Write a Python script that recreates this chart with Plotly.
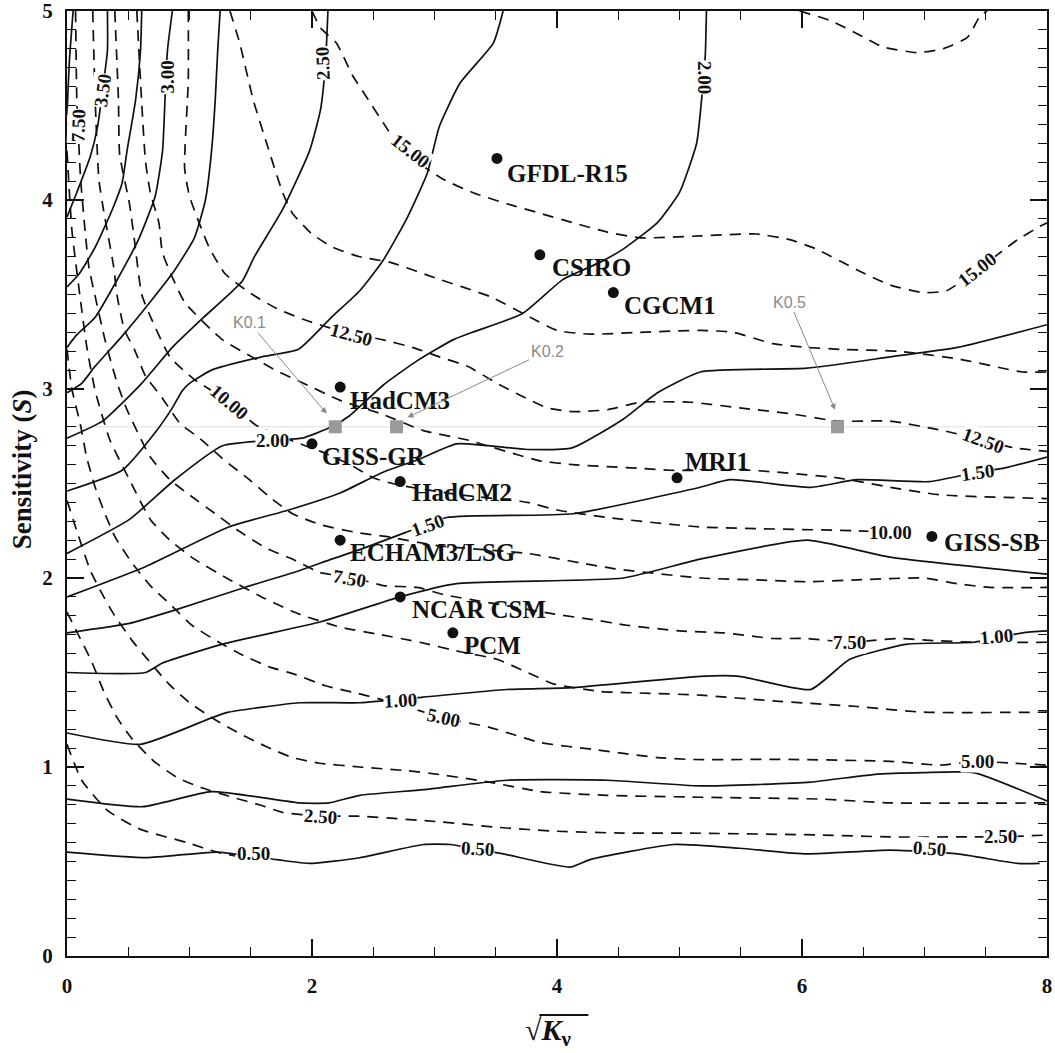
import plotly.graph_objects as go

# ---------------- axes ----------------
x_ticks = [0, 2, 4, 6, 8]
y_ticks = [0, 1, 2, 3, 4, 5]

# ---------------- warming contours (solid), sqrt(Kv) vs S ----------------
t050_x = [0, 0.65, 1.22, 1.71, 1.98, 2.39, 2.91, 3.13, 3.56, 4.11, 4.27, 4.95, 5.49, 6.04, 6.72, 7.27, 7.76, 7.94]
t050_y = [0.55, 0.52, 0.55, 0.51, 0.49, 0.52, 0.59, 0.59, 0.54, 0.47, 0.51, 0.59, 0.57, 0.54, 0.56, 0.54, 0.49, 0.49]

t075_x = [0, 0.62, 1.18, 1.90, 2.14, 2.39, 2.91, 3.59, 4.41, 5.17, 6.07, 6.58, 6.99, 7.40, 8.0]
t075_y = [0.83, 0.79, 0.87, 0.81, 0.81, 0.85, 0.88, 0.93, 0.93, 0.90, 0.92, 0.96, 0.97, 0.97, 0.82]

t100_x = [0, 0.60, 1.18, 1.32, 1.90, 2.39, 2.91, 3.59, 4.13, 5.17, 5.49, 6.07, 6.39, 6.86, 7.40, 7.80, 8.0]
t100_y = [1.18, 1.12, 1.26, 1.29, 1.34, 1.34, 1.37, 1.41, 1.42, 1.48, 1.48, 1.41, 1.57, 1.65, 1.66, 1.71, 1.72]

t125_x = [0, 0.64, 0.78, 1.27, 2.08, 2.72, 3.18, 4.54, 5.17, 6.04, 6.72, 8.0]
t125_y = [1.50, 1.50, 1.55, 1.65, 1.77, 1.90, 1.97, 2.00, 2.10, 2.20, 2.11, 2.02]

t150_x = [0, 0.51, 0.88, 1.45, 1.90, 2.16, 2.39, 2.76, 3.10, 4.13, 5.17, 5.41, 6.07, 6.45, 7.04, 7.43, 7.64, 8.0]
t150_y = [1.71, 1.76, 1.83, 1.95, 2.04, 2.10, 2.15, 2.24, 2.32, 2.34, 2.48, 2.52, 2.48, 2.52, 2.51, 2.56, 2.58, 2.64]

t175_x = [0, 0.64, 1.32, 1.81, 2.23, 2.58, 2.88, 3.18, 3.76, 4.13, 4.54, 4.82, 5.17, 6.04, 6.72, 7.27, 8.0]
t175_y = [1.90, 2.06, 2.27, 2.36, 2.45, 2.56, 2.63, 2.71, 2.68, 2.69, 2.84, 2.98, 3.09, 3.11, 3.17, 3.22, 3.34]

t200_x = [0, 0.51, 0.88, 1.27, 1.68, 1.92, 2.16, 2.31, 2.58, 2.86, 3.15, 3.31, 3.72, 4.05, 4.35, 4.54, 4.82, 5.00, 5.14, 5.18, 5.21, 5.22]
t200_y = [2.13, 2.31, 2.52, 2.70, 2.73, 2.74, 2.80, 2.86, 3.02, 3.15, 3.26, 3.30, 3.40, 3.58, 3.67, 3.74, 3.88, 4.04, 4.30, 4.53, 4.76, 5.0]

t225_x = [0, 0.45, 0.72, 0.86, 0.94, 1.00, 1.18, 1.59, 1.89, 2.16, 2.39, 2.58, 2.78, 2.94, 3.04, 3.21, 3.48, 3.56]
t225_y = [2.46, 2.57, 2.77, 2.90, 2.99, 3.03, 3.10, 3.17, 3.21, 3.38, 3.52, 3.68, 3.91, 4.14, 4.39, 4.62, 4.83, 5.0]

t250_x = [0, 0.29, 0.61, 0.86, 1.10, 1.43, 1.53, 1.76, 1.98, 2.07, 2.11, 2.13]
t250_y = [2.74, 2.83, 3.03, 3.22, 3.37, 3.57, 3.70, 3.95, 4.26, 4.48, 4.72, 5.0]

t275_x = [0, 0.12, 0.23, 0.45, 0.69, 0.88, 1.04, 1.13, 1.18, 1.21, 1.23, 1.25]
t275_y = [2.98, 3.03, 3.12, 3.28, 3.47, 3.63, 3.80, 4.00, 4.26, 4.53, 4.79, 5.0]

t300_x = [0, 0.07, 0.23, 0.42, 0.59, 0.72, 0.78, 0.80, 0.82, 0.86]
t300_y = [3.22, 3.28, 3.38, 3.59, 3.80, 4.02, 4.26, 4.53, 4.79, 5.0]

t325_x = [0, 0.10, 0.23, 0.37, 0.45, 0.49, 0.56, 0.60, 0.61]
t325_y = [3.54, 3.61, 3.75, 3.95, 4.09, 4.26, 4.53, 4.79, 5.0]

t350_x = [0, 0.08, 0.19, 0.25, 0.29, 0.33, 0.33]
t350_y = [3.91, 4.04, 4.23, 4.39, 4.58, 4.79, 5.0]

t375_x = [0, 0.02, 0.05]
t375_y = [4.45, 4.74, 5.0]

# ---------------- sea-level contours (dashed) ----------------
s125_x = [0, 0.12, 0.33, 0.60, 0.98, 1.22, 1.37]
s125_y = [1.12, 0.93, 0.77, 0.67, 0.60, 0.55, 0.53]

s250_x = [0, 0.10, 0.20, 0.30, 0.41, 0.53, 0.71, 0.91, 1.10, 1.35, 1.57, 1.76, 2.07, 2.37, 3.04, 3.53, 4.00, 4.54, 5.09, 6.17, 6.72, 7.40, 7.62, 8.0]
s250_y = [1.82, 1.69, 1.56, 1.40, 1.26, 1.15, 1.03, 0.94, 0.89, 0.84, 0.80, 0.76, 0.74, 0.74, 0.71, 0.68, 0.66, 0.65, 0.65, 0.64, 0.63, 0.63, 0.63, 0.64]

s375_x = [0, 0.09, 0.19, 0.30, 0.38, 0.53, 0.67, 0.83, 1.00, 1.21, 1.40, 1.62, 1.84, 2.06, 2.39, 2.78, 3.04, 3.45, 3.86, 4.41, 5.17, 6.17, 6.72, 8.0]
s375_y = [2.41, 2.23, 2.04, 1.90, 1.81, 1.67, 1.56, 1.44, 1.34, 1.25, 1.18, 1.11, 1.05, 1.02, 1.0, 0.98, 0.96, 0.92, 0.87, 0.85, 0.84, 0.83, 0.81, 0.81]

s500_x = [0, 0.04, 0.11, 0.16, 0.23, 0.31, 0.39, 0.53, 0.68, 0.86, 1.02, 1.24, 1.44, 1.65, 1.86, 2.11, 2.37, 2.72, 3.07, 3.45, 3.86, 4.33, 4.82, 5.09, 5.90, 6.72, 7.13, 7.43, 7.72, 8.0]
s500_y = [3.21, 3.00, 2.81, 2.64, 2.48, 2.34, 2.22, 2.08, 1.96, 1.85, 1.75, 1.66, 1.59, 1.53, 1.49, 1.43, 1.39, 1.33, 1.26, 1.21, 1.13, 1.09, 1.05, 1.04, 1.04, 1.03, 1.01, 1.03, 1.02, 1.01]

s625_x = [0, 0.04, 0.11, 0.16, 0.23, 0.35, 0.51, 0.68, 0.84, 1.04, 1.33, 1.62, 1.89, 2.23, 2.56, 2.88, 3.21, 3.51, 3.76, 3.97, 4.35, 4.76, 5.17, 5.76, 6.45, 6.99, 8.0]
s625_y = [4.26, 3.84, 3.47, 3.23, 2.99, 2.73, 2.52, 2.31, 2.20, 2.10, 1.99, 1.89, 1.81, 1.74, 1.70, 1.66, 1.61, 1.57, 1.50, 1.44, 1.40, 1.39, 1.38, 1.35, 1.32, 1.29, 1.29]

s750_x = [0.07, 0.08, 0.09, 0.11, 0.15, 0.18, 0.23, 0.31, 0.41, 0.49, 0.68, 0.84, 1.02, 1.21, 1.40, 1.62, 1.84, 2.06, 2.35, 2.58, 2.86, 3.09, 3.53, 3.97, 4.29, 4.57, 5.00, 5.36, 5.76, 6.04, 6.39, 6.78, 7.04, 7.40, 8.0]
s750_y = [5.0, 4.53, 4.39, 4.12, 3.82, 3.64, 3.49, 3.26, 3.03, 2.89, 2.64, 2.52, 2.43, 2.34, 2.25, 2.16, 2.10, 2.03, 2.0, 1.96, 1.95, 1.91, 1.86, 1.81, 1.78, 1.75, 1.72, 1.71, 1.68, 1.68, 1.66, 1.68, 1.67, 1.66, 1.66]

s875_x = [0.21, 0.23, 0.26, 0.30, 0.38, 0.41, 0.47, 0.55, 0.64, 0.78, 0.92, 1.10, 1.29, 1.49, 1.65, 1.84, 2.08, 2.37, 2.60, 3.04, 3.76, 4.19, 4.46, 5.17, 5.63, 6.04, 6.45, 6.99, 7.27, 7.53, 8.0]
s875_y = [5.0, 4.53, 4.11, 3.94, 3.65, 3.49, 3.31, 3.21, 3.07, 2.95, 2.82, 2.73, 2.62, 2.52, 2.43, 2.34, 2.28, 2.24, 2.22, 2.17, 2.13, 2.08, 2.05, 2.0, 1.99, 1.98, 1.99, 2.0, 1.97, 1.95, 1.95]

s1000_x = [0.39, 0.42, 0.43, 0.51, 0.55, 0.61, 0.69, 0.84, 1.04, 1.33, 1.54, 1.82, 2.07, 2.31, 2.50, 2.72, 3.21, 3.76, 4.00, 4.41, 5.17, 6.45, 6.72]
s1000_y = [5.0, 4.53, 4.24, 3.98, 3.79, 3.50, 3.37, 3.17, 3.05, 2.93, 2.81, 2.73, 2.67, 2.60, 2.53, 2.49, 2.44, 2.40, 2.36, 2.32, 2.27, 2.25, 2.24]

s1125_x = [0.57, 0.60, 0.64, 0.68, 0.75, 0.78, 0.96, 1.27, 1.51, 1.70, 1.90, 2.23, 2.56, 2.91, 3.27, 3.48, 3.86, 4.13, 4.68, 4.92, 5.58, 6.29, 6.72, 7.13, 8.0]
s1125_y = [5.0, 4.63, 4.21, 4.04, 3.88, 3.72, 3.46, 3.26, 3.17, 3.10, 3.04, 2.94, 2.87, 2.78, 2.73, 2.69, 2.62, 2.60, 2.58, 2.57, 2.57, 2.53, 2.48, 2.44, 2.42]

s1250_x = [0.99, 0.99, 0.96, 1.00, 1.16, 1.29, 1.49, 1.70, 1.92, 2.27, 2.58, 2.82, 3.04, 3.27, 3.51, 3.72, 3.92, 4.13, 4.41, 4.68, 5.09, 5.49, 5.90, 6.29, 6.72, 7.15, 7.48, 7.72, 8.0]
s1250_y = [5.0, 4.63, 4.17, 4.02, 3.75, 3.61, 3.51, 3.43, 3.37, 3.30, 3.26, 3.22, 3.17, 3.12, 3.03, 2.96, 2.90, 2.88, 2.89, 2.93, 2.93, 2.90, 2.87, 2.83, 2.83, 2.78, 2.73, 2.69, 2.67]

s1375_x = [1.33, 1.41, 1.52, 1.63, 1.76, 1.84, 2.00, 2.17, 2.39, 2.64, 3.04, 3.45, 3.78, 4.00, 4.27, 4.68, 5.17, 5.44, 5.76, 6.04, 6.31, 6.78, 7.27, 7.80, 8.0]
s1375_y = [5.0, 4.83, 4.53, 4.30, 4.04, 3.93, 3.82, 3.75, 3.70, 3.67, 3.58, 3.49, 3.38, 3.31, 3.29, 3.30, 3.31, 3.30, 3.24, 3.22, 3.21, 3.20, 3.16, 3.09, 3.09]

s1500_x = [2.00, 2.07, 2.20, 2.33, 2.43, 2.58, 2.74, 3.07, 3.31, 3.59, 3.86, 4.13, 4.41, 4.68, 5.17, 5.63, 5.90, 6.12, 6.45, 6.72, 6.99, 7.18, 7.43, 7.76, 7.94, 8.0]
s1500_y = [5.0, 4.91, 4.83, 4.66, 4.56, 4.41, 4.26, 4.11, 4.04, 3.98, 3.93, 3.88, 3.83, 3.80, 3.81, 3.82, 3.79, 3.74, 3.63, 3.55, 3.51, 3.52, 3.63, 3.79, 3.86, 3.88]

s1625_x = [5.98, 6.23, 6.45, 6.66, 6.94, 7.15, 7.35, 7.45, 7.51]
s1625_y = [5.0, 4.95, 4.88, 4.81, 4.78, 4.80, 4.86, 4.97, 5.0]

# ---------------- contour labels: text, x, y, angle ----------------
temp_labels = [
    ("0.50", 1.52, 0.54, 0), ("0.50", 3.35, 0.57, 3), ("0.50", 7.04, 0.57, 4),
    ("1.00", 2.72, 1.35, -3), ("1.00", 7.59, 1.69, -5),
    ("1.50", 2.94, 2.28, -20), ("1.50", 7.43, 2.56, -8),
    ("2.00", 1.68, 2.73, 0), ("2.00", 5.21, 4.65, 90),
    ("2.50", 2.09, 4.72, -92),
    ("3.00", 0.82, 4.65, -90),
    ("3.50", 0.29, 4.58, -82),
]
sea_labels = [
    ("2.50", 2.07, 0.74, 4), ("2.50", 7.62, 0.63, 0),
    ("5.00", 3.07, 1.26, 12), ("5.00", 7.43, 1.03, 0),
    ("7.50", 2.31, 2.00, 10), ("7.50", 6.39, 1.66, 0), ("7.50", 0.09, 4.39, -88),
    ("10.00", 1.33, 2.93, 40), ("10.00", 6.72, 2.24, 0),
    ("12.50", 2.32, 3.29, 15), ("12.50", 7.48, 2.73, 20),
    ("15.00", 2.80, 4.26, 38), ("15.00", 7.43, 3.63, -38),
]

# ---------------- climate models ----------------
model_names = ["GFDL-R15", "CSIRO", "CGCM1", "HadCM3", "GISS-GR", "HadCM2",
               "MRI1", "ECHAM3/LSG", "NCAR CSM", "PCM", "GISS-SB"]
model_kv = [3.51, 3.86, 4.46, 2.23, 2.00, 2.72, 4.98, 2.23, 2.72, 3.15, 7.06]
model_s = [4.22, 3.71, 3.51, 3.01, 2.71, 2.51, 2.53, 2.20, 1.90, 1.71, 2.22]

# ---------------- K experiments ----------------
k_names = ["K0.1", "K0.2", "K0.5"]
k_kv = [2.19, 2.69, 6.29]
k_s = 2.8
k_text_x = [1.49, 3.92, 5.90]
k_text_y = [3.35, 3.20, 3.46]
k_head_x = [2.12, 2.78, 6.27]
k_head_y = [2.87, 2.85, 2.89]

SERIF = "Liberation Serif, Times New Roman, serif"

fig = go.Figure()

solid_lines = [
    (t050_x, t050_y), (t075_x, t075_y), (t100_x, t100_y), (t125_x, t125_y),
    (t150_x, t150_y), (t175_x, t175_y), (t200_x, t200_y), (t225_x, t225_y),
    (t250_x, t250_y), (t275_x, t275_y), (t300_x, t300_y), (t325_x, t325_y),
    (t350_x, t350_y), (t375_x, t375_y),
]
dashed_lines = [
    (s125_x, s125_y), (s250_x, s250_y), (s375_x, s375_y), (s500_x, s500_y),
    (s625_x, s625_y), (s750_x, s750_y), (s875_x, s875_y), (s1000_x, s1000_y),
    (s1125_x, s1125_y), (s1250_x, s1250_y), (s1375_x, s1375_y), (s1500_x, s1500_y),
    (s1625_x, s1625_y),
]

# faint reference line through the K experiments
fig.add_trace(go.Scatter(x=[0, 8], y=[k_s, k_s], mode="lines",
                         line=dict(color="rgba(180,180,180,0.45)", width=1),
                         hoverinfo="skip", showlegend=False))

for xs, ys in dashed_lines:
    fig.add_trace(go.Scatter(x=xs, y=ys, mode="lines",
                             line=dict(color="#111", width=1.7, dash="11px,8px",
                                       shape="spline", smoothing=0.5),
                             hoverinfo="skip", showlegend=False))

for xs, ys in solid_lines:
    fig.add_trace(go.Scatter(x=xs, y=ys, mode="lines",
                             line=dict(color="#111", width=1.7,
                                       shape="spline", smoothing=0.5),
                             hoverinfo="skip", showlegend=False))

# K experiment squares
fig.add_trace(go.Scatter(x=k_kv, y=[k_s] * len(k_kv), mode="markers",
                         marker=dict(symbol="square", size=13, color="#9a9a9a"),
                         hoverinfo="skip", showlegend=False))

# model points
fig.add_trace(go.Scatter(x=model_kv, y=model_s, mode="markers",
                         marker=dict(symbol="circle", size=11, color="#111"),
                         hoverinfo="skip", showlegend=False))

annotations = []
for text, x, y, ang in temp_labels + sea_labels:
    annotations.append(dict(x=x, y=y, xref="x", yref="y", text=text, showarrow=False,
                            textangle=ang, bgcolor="white", borderpad=0,
                            font=dict(family=SERIF, size=19, color="#111", weight="bold")))

label_shift = {
    "GFDL-R15": (8, -15), "CSIRO": (10, -13), "CGCM1": (9, -13), "HadCM3": (8, -13),
    "GISS-GR": (8, -13), "HadCM2": (10, -11), "MRI1": (6, 16), "ECHAM3/LSG": (8, -12),
    "NCAR CSM": (10, -13), "PCM": (9, -13), "GISS-SB": (10, -6),
}
for name, x, y in zip(model_names, model_kv, model_s):
    dx, dy = label_shift[name]
    annotations.append(dict(x=x, y=y, xref="x", yref="y", text=name, showarrow=False,
                            xanchor="left", yanchor="middle", xshift=dx, yshift=dy,
                            font=dict(family=SERIF, size=25, color="#111", weight="bold")))

for name, tx, ty, hx, hy in zip(k_names, k_text_x, k_text_y, k_head_x, k_head_y):
    annotations.append(dict(x=hx, y=hy, xref="x", yref="y", ax=tx, ay=ty,
                            axref="x", ayref="y", text=name, showarrow=True,
                            arrowhead=2, arrowsize=1.2, arrowwidth=1, arrowcolor="#8a8a8a",
                            font=dict(family="Liberation Sans, Arial, sans-serif",
                                      size=16, color="#8a8a8a")))

# axis titles
annotations.append(dict(x=-0.046, y=0.515, xref="paper", yref="paper",
                        xanchor="center", yanchor="middle",
                        text="Sensitivity (<i>S</i>)", textangle=-90, showarrow=False,
                        font=dict(family=SERIF, size=27, color="#111", weight="bold")))
annotations.append(dict(x=0.491, y=-0.080, xref="paper", yref="paper",
                        xanchor="center", yanchor="middle",
                        text="\u221a<i>K</i><sub>\u03bd</sub>", showarrow=False,
                        font=dict(family=SERIF, size=30, color="#111", weight="bold")))

fig.update_layout(
    width=1055, height=1053,
    margin=dict(l=67, r=8, t=11, b=97, autoexpand=False),
    paper_bgcolor="white", plot_bgcolor="white",
    annotations=annotations,
    shapes=[dict(type="line", xref="paper", yref="paper",
                 x0=0.482, x1=0.532, y0=-0.0625, y1=-0.0625,
                 line=dict(color="#111", width=2))],
)

axis_common = dict(
    showgrid=False, zeroline=False, showline=True, linecolor="#111", linewidth=2,
    mirror="allticks", ticks="inside", ticklen=17, tickwidth=1.6, tickcolor="#111",
    ticklabeloverflow="allow", automargin=False,
    tickfont=dict(family=SERIF, size=21, color="#111", weight="bold"),
)
fig.update_xaxes(range=[0, 8], tickvals=x_ticks, ticklabelstandoff=10,
                 minor=dict(dtick=0.5, ticks="inside", ticklen=9, tickwidth=1.4,
                            tickcolor="#111", showgrid=False),
                 **axis_common)
fig.update_yaxes(range=[0, 5], tickvals=y_ticks, ticklabelstandoff=8,
                 minor=dict(dtick=0.1, ticks="inside", ticklen=9, tickwidth=1.4,
                            tickcolor="#111", showgrid=False),
                 **axis_common)

fig.write_html("out.html")
